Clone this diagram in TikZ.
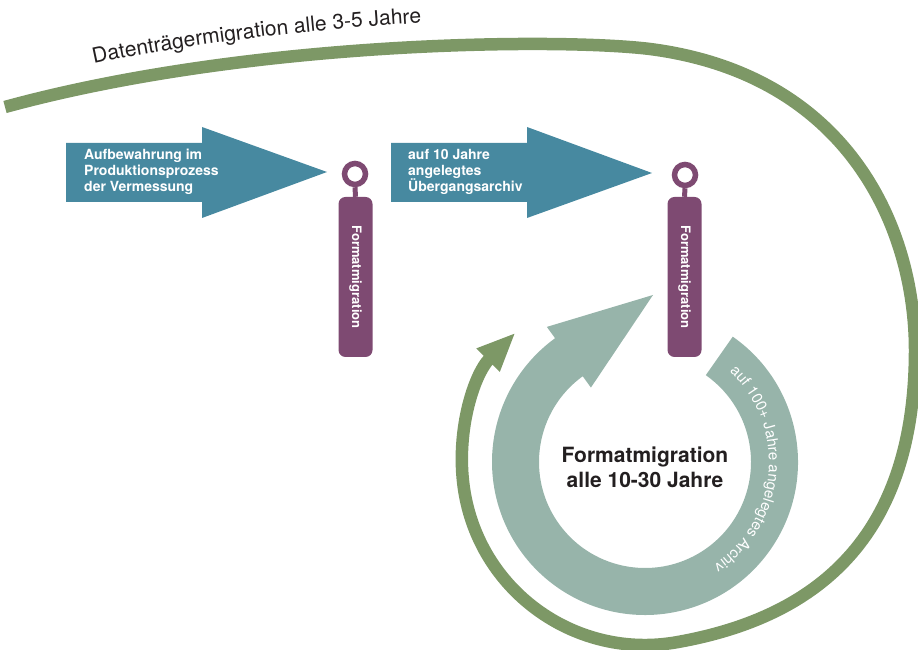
\documentclass[tikz,border=0pt]{standalone}
\usepackage{fontspec}
\setmainfont{TeX Gyre Heros}
\usetikzlibrary{arrows.meta,positioning,calc,decorations.text}
\definecolor{archblue}{HTML}{4789A0}
\definecolor{pinpurple}{HTML}{7E4A72}
\definecolor{ringteal}{HTML}{97B4AA}
\definecolor{migreen}{HTML}{7D9866}
\definecolor{darktext}{HTML}{231F20}

\begin{document}
\begin{tikzpicture}[
    x=1pt, y=1pt,
    stagearrow/.style={fill=archblue},
    stagetext/.style={anchor=west, align=left, text=white, inner sep=0pt, font=\fontsize{14}{16}\selectfont\bfseries},
    pinring/.style={circle, draw=pinpurple, line width=5.5pt, minimum size=21pt, inner sep=0pt},
    pinbody/.style={fill=pinpurple, rounded corners=7pt, minimum width=160pt, minimum height=34pt, rotate=-90, text=white, inner sep=0pt, font=\fontsize{13}{13}\selectfont\bfseries},
    pinstem/.style={draw=pinpurple, line width=5pt},
    migline/.style={draw=migreen, line width=12.5pt},
    ringarrow/.style={fill=ringteal},
    cycletext/.style={align=center, text=darktext, font=\fontsize{21}{25}\selectfont\bfseries}
]
\useasboundingbox (0,0) rectangle (918,650);

% --- Stage arrows ---
\fill[stagearrow] (66,507) -- (202,507) -- (202,523) -- (327,478) -- (202,432) -- (202,448) -- (66,448) -- cycle;
\fill[stagearrow] (391,507) -- (527,507) -- (527,523) -- (652,477) -- (527,432) -- (527,448) -- (391,448) -- cycle;
\node[stagetext] (stage1) at (84,478) {Aufbewahrung im\\Produktionsprozess\\der Vermessung};
\node[stagetext] (stage2) at (408,478) {auf 10 Jahre\\angelegtes\\Übergangsarchiv};

% --- Migration pins ---
\node[pinring] (ring1) at (355,476) {};
\node[pinbody] (pin1) at (355.5,373) {Formatmigration};
\draw[pinstem] (ring1.south) -- (pin1.west);
\node[pinring] (ring2) at (685,475) {};
\node[pinbody] (pin2) at (684.5,373) {Formatmigration};
\draw[pinstem] (ring2.south) -- (pin2.west);

% --- Archive cycle ---
\coordinate (C) at (645,188);
\fill[ringarrow] ($(C)+(55:153)$) arc[start angle=55, end angle=-234, radius=153]
    -- ($(C)+(126:167)$) -- ($(C)+(8,167)$) -- ($(C)+(126:92)$) -- ($(C)+(126:106)$)
    arc[start angle=-234, end angle=55, radius=106] -- cycle;
\node[cycletext] (cycle) at ($(C)+(0,-5)$) {Formatmigration\\alle 10-30 Jahre};
\path[decorate, decoration={text along path, text color=white,
    text={|\fontsize{15}{15}\selectfont|auf 100+ Jahre angelegtes Archiv}}]
    ($(C)+(47:124)$) arc[start angle=47, end angle=-85, radius=124];

% --- Media migration loop ---
\draw[migline, -{Triangle[length=39pt,width=30pt]}] (5,543) .. controls (250,610) and (560,612) .. (650,601)
    .. controls (850,575) and (915,420) .. (915,300)
    .. controls (915,120) and (825,34) .. ($(C)+(-80:183)$)
    arc[start angle=-80, end angle=-225, radius=183];
\path[decorate, decoration={text along path, text color=darktext,
    text={|\fontsize{21}{21}\selectfont|Datenträgermigration alle 3-5 Jahre}}]
    (94,586) .. controls (190,607) and (320,622) .. (440,628);
\end{tikzpicture}
\end{document}
